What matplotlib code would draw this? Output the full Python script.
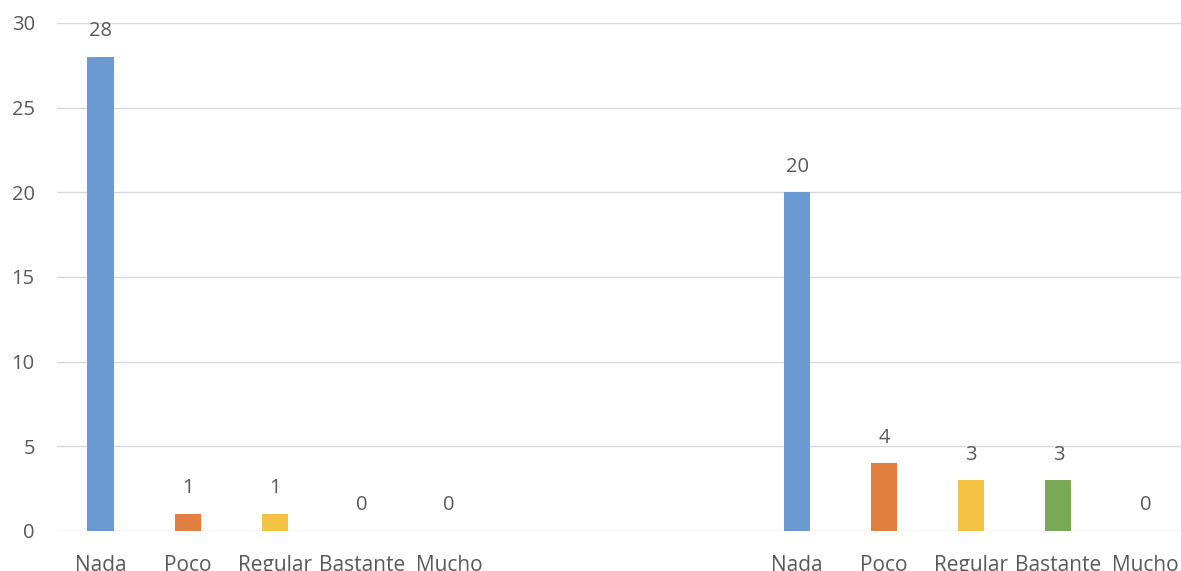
import matplotlib.pyplot as plt

plt.rcParams['font.family'] = ['Open Sans', 'DejaVu Sans']

categories = ["Nada", "Poco", "Regular", "Bastante", "Mucho"]
group1 = [28, 1, 1, 0, 0]
group2 = [20, 4, 3, 3, 0]
colors = ["#6a9ad1", "#e07f3f", "#f4c242", "#79a856", "#6a9ad1"]

text_color = "#595959"
grid_color = "#d9d9d9"

fig = plt.figure(figsize=(11.81, 5.71), dpi=100)
# axes extend slightly past the right edge, as in the cropped reference
ax = fig.add_axes([57 / 1181, 1 - 531 / 571, (1189 - 57) / 1181, (531 - 23) / 571])

# positions: first group 0-4, second group 8-12
x1 = list(range(5))
x2 = [i + 8 for i in range(5)]

for xs, vals in ((x1, group1), (x2, group2)):
    bars = ax.bar(xs, vals, width=0.3, color=colors, zorder=3)
    for bar, v in zip(bars, vals):
        ax.annotate(str(v), (bar.get_x() + bar.get_width() / 2, v),
                    xytext=(0, 18.5), textcoords="offset points",
                    ha="center", va="center", fontsize=14.5, color=text_color)

ax.set_xlim(-0.5, 12.5)
ax.set_ylim(0, 30)
ax.set_yticks(range(0, 31, 5))
ax.set_xticks(x1 + x2)
ax.set_xticklabels(categories + categories)

ax.grid(axis="y", color=grid_color, linewidth=1, zorder=0)
for s in ax.spines.values():
    s.set_visible(False)
ax.tick_params(axis="y", length=0, labelsize=14.5, colors=text_color, pad=16)
ax.tick_params(axis="x", length=0, labelsize=15, colors=text_color, pad=17)

fig.savefig("out.png", dpi=100)
